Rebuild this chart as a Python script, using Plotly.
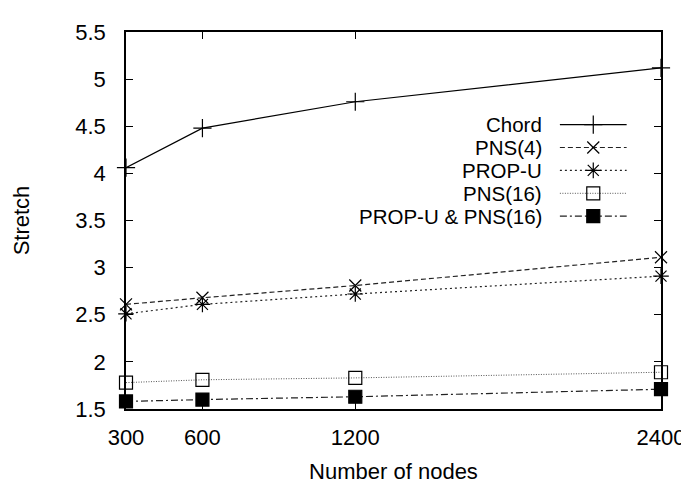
import plotly.graph_objects as go

# ---- data ----
nodes = [300, 600, 1200, 2400]
x_tick_labels = ["300", "600", "1200", "2400"]
y_ticks = [1.5, 2, 2.5, 3, 3.5, 4, 4.5, 5, 5.5]
y_tick_labels = ["1.5", "2", "2.5", "3", "3.5", "4", "4.5", "5", "5.5"]

series_names = ["Chord", "PNS(4)", "PROP-U", "PNS(16)", "PROP-U & PNS(16)"]
chord = [4.06, 4.48, 4.76, 5.12]
pns4 = [2.61, 2.68, 2.81, 3.11]
propu = [2.51, 2.61, 2.72, 2.91]
pns16 = [1.78, 1.81, 1.83, 1.89]
propu_pns16 = [1.58, 1.60, 1.63, 1.71]
series_values = [chord, pns4, propu, pns16, propu_pns16]

# ---- styles ----
styles = [
    dict(dash="solid", color="#000000", symbol="cross-thin", size=13, lw=1.2),
    dict(dash="5px,3px", color="#222222", symbol="x-thin", size=12, lw=1.2),
    dict(dash="2px,3px", color="#222222", symbol="asterisk", size=13, lw=1.2),
    dict(dash="1px,1.5px", color="#555555", symbol="square-open", size=13, lw=1.0),
    dict(dash="7px,3px,2px,3px", color="#222222", symbol="square", size=13, lw=1.2),
]

FONT = "Liberation Sans, Arial, Helvetica, sans-serif"
FS = 22
KEY_FS = 20.5

W, H = 689, 484
L, R, T, B = 113, 31, 17, 72

fig = go.Figure()

for name, vals, st in zip(series_names, series_values, styles):
    fig.add_trace(go.Scatter(
        x=nodes, y=vals, mode="lines+markers", name=name, showlegend=False,
        line=dict(color=st["color"], width=st["lw"], dash=st["dash"]),
        marker=dict(symbol=st["symbol"], size=st["size"], color="#000000",
                    line=dict(color="#000000", width=1.2)),
        cliponaxis=False,
    ))

# ---- gnuplot-style key (text right-aligned, sample to its right) ----
# overlay axes in pixel units of the plotting area
key_rows_px = [114, 138, 162, 186, 210]
key_text_right = 539
key_line = (555, 623)
key_marker = 589
annotations = []
for name, st, yrow in zip(series_names, styles, key_rows_px):
    fig.add_trace(go.Scatter(
        x=list(key_line), y=[yrow, yrow], mode="lines", showlegend=False,
        line=dict(color=st["color"], width=st["lw"], dash=st["dash"]),
        xaxis="x2", yaxis="y2", hoverinfo="skip",
    ))
    fig.add_trace(go.Scatter(
        x=[key_marker], y=[yrow], mode="markers", showlegend=False,
        marker=dict(symbol=st["symbol"], size=st["size"], color="#000000",
                    line=dict(color="#000000", width=1.2)),
        xaxis="x2", yaxis="y2", hoverinfo="skip",
    ))
    annotations.append(dict(
        x=key_text_right, y=yrow, xref="x2", yref="y2", text=name,
        showarrow=False, xanchor="right", yanchor="middle",
        font=dict(family=FONT, size=KEY_FS, color="#000000"),
    ))

fig.update_layout(
    width=W, height=H,
    margin=dict(l=L, r=R, t=T, b=B, pad=0),
    paper_bgcolor="white", plot_bgcolor="white",
    font=dict(family=FONT, size=FS, color="#000000"),
    annotations=annotations,
    xaxis=dict(
        range=[300, 2400], tickmode="array", tickvals=nodes, ticktext=x_tick_labels,
        ticks="inside", ticklen=7, tickwidth=1.2, tickcolor="#000000",
        showline=True, linecolor="#000000", linewidth=1.5, mirror="ticks",
        showgrid=False, zeroline=False, ticklabelstandoff=8,
        title=dict(text="Number of nodes", standoff=14,
                   font=dict(family=FONT, size=FS)),
        tickfont=dict(family=FONT, size=FS),
    ),
    yaxis=dict(
        range=[1.5, 5.5], tickmode="array", tickvals=y_ticks, ticktext=y_tick_labels,
        ticks="inside", ticklen=7, tickwidth=1.2, tickcolor="#000000",
        showline=True, linecolor="#000000", linewidth=1.5, mirror="ticks",
        showgrid=False, zeroline=False, ticklabelstandoff=14,
        title=dict(text="Stretch", standoff=40,
                   font=dict(family=FONT, size=FS)),
        tickfont=dict(family=FONT, size=FS),
    ),
    xaxis2=dict(range=[L, W - R], overlaying="x", visible=False, fixedrange=True),
    yaxis2=dict(range=[H - B, T], overlaying="y", visible=False, fixedrange=True),
)

fig.write_html("out.html")
